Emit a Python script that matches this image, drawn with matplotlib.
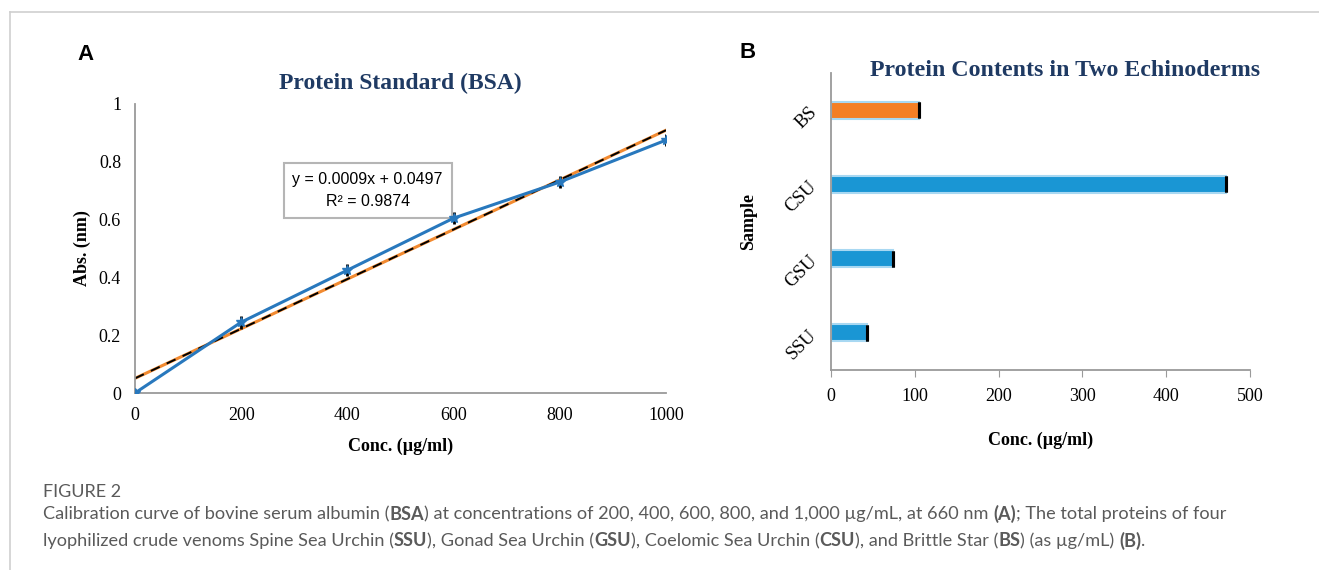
import numpy as np
import matplotlib
matplotlib.use("Agg")
import matplotlib.pyplot as plt
from matplotlib.lines import Line2D

# panel A data: BSA standard curve
conc = [0, 200, 400, 600, 800, 1000]
absorb = [0.0, 0.245, 0.425, 0.605, 0.73, 0.875]
absorb_err = [0.015, 0.022, 0.02, 0.02, 0.02, 0.02]

# panel B data: protein contents
samples = ["SSU", "GSU", "CSU", "BS"]
protein = [43, 74, 471, 105]
protein_err = [0.0, 0.0, 0.0, 0.0]
bar_colors = ["#1a96d4", "#1a96d4", "#1a96d4", "#f47f25"]

serif = "Liberation Serif"
navy = "#1f3a63"
spine_gray = "#9a9a9a"

fig = plt.figure(figsize=(13.19, 5.70), dpi=100)

# thin frame lines like the figure box
fig.add_artist(Line2D([10 / 1319, 10 / 1319], [0, 1 - 12 / 570], color="#cfcfcf", lw=1.2))
fig.add_artist(Line2D([10 / 1319, 1], [1 - 12 / 570, 1 - 12 / 570], color="#cfcfcf", lw=1.2))

# ---------- panel A ----------
axA = fig.add_axes([135 / 1319, 177 / 570, 531 / 1319, 289 / 570])
axA.plot(conc, absorb, color="#2878bd", lw=2.2, marker="*", ms=7, zorder=4)
axA.errorbar(conc, absorb, yerr=absorb_err, fmt="none", ecolor="black", elinewidth=2, zorder=3)

slope, intercept = np.polyfit(conc, absorb, 1)
xfit = np.array([conc[0], conc[-1]])
axA.plot(xfit, slope * xfit + intercept, color="#f28a30", lw=2.2, zorder=2)
axA.plot(xfit, slope * xfit + intercept, color="black", lw=1.4, ls=(0, (5, 4)), zorder=2)

axA.set_xlim(0, 1000)
axA.set_ylim(0, 1)
axA.set_xticks([0, 200, 400, 600, 800, 1000])
axA.set_yticks([0, 0.2, 0.4, 0.6, 0.8, 1])
axA.set_yticklabels(["0", "0.2", "0.4", "0.6", "0.8", "1"])
axA.tick_params(length=0, labelsize=13, pad=10)
for lab in axA.get_xticklabels() + axA.get_yticklabels():
    lab.set_fontfamily(serif)
for s in ["top", "right"]:
    axA.spines[s].set_visible(False)
for s in ["left", "bottom"]:
    axA.spines[s].set_color(spine_gray)
    axA.spines[s].set_linewidth(1.3)
axA.set_xlabel("Conc. (µg/ml)", fontfamily=serif, fontweight="bold", fontsize=13, labelpad=10)
axA.set_ylabel("Abs. (nm)", fontfamily=serif, fontweight="bold", fontsize=13, labelpad=6)
axA.set_title("Protein Standard (BSA)", fontfamily=serif, fontweight="bold", fontsize=17,
              color=navy, pad=11)
axA.text(0.438, 0.7, "y = 0.0009x + 0.0497\nR² = 0.9874", transform=axA.transAxes,
         ha="center", va="center", fontsize=11.5, fontfamily="Liberation Sans",
         linespacing=1.6,
         bbox=dict(boxstyle="square,pad=0.55", fc="white", ec="#b5b5b5", lw=1.5))

# ---------- panel B ----------
axB = fig.add_axes([831 / 1319, 200 / 570, 419 / 1319, 297 / 570])
ypos = np.arange(len(samples))
axB.barh(ypos, protein, height=0.23, color=bar_colors, edgecolor="#a8d8f2", linewidth=1.5)
axB.errorbar(protein, ypos, xerr=protein_err, fmt="none", ecolor="black", elinewidth=2,
             capsize=6, capthick=2.2)
axB.set_xlim(0, 500)
axB.set_ylim(-0.5, 3.5)
axB.set_xticks([0, 100, 200, 300, 400, 500])
axB.set_yticks(ypos)
axB.set_yticklabels(samples, rotation=45, ha="right", va="center", rotation_mode="anchor")
axB.tick_params(axis="y", length=0, labelsize=13.5, pad=12)
axB.tick_params(axis="x", length=5, color=spine_gray, labelsize=13, pad=8)
for lab in axB.get_xticklabels() + axB.get_yticklabels():
    lab.set_fontfamily(serif)
for s in ["top", "right"]:
    axB.spines[s].set_visible(False)
for s in ["left", "bottom"]:
    axB.spines[s].set_color(spine_gray)
    axB.spines[s].set_linewidth(1.3)
axB.set_xlabel("Conc. (µg/ml)", fontfamily=serif, fontweight="bold", fontsize=13, labelpad=19)
axB.set_ylabel("Sample", fontfamily=serif, fontweight="bold", fontsize=13, labelpad=18)
fig.text(1065 / 1319, 1 - 71 / 570, "Protein Contents in Two Echinoderms", fontfamily=serif,
         fontweight="bold", fontsize=17.2, color=navy, ha="center", va="center")

# panel letters
fig.text(85 / 1319, 1 - 55 / 570, "A", fontfamily="Liberation Sans", fontweight="bold",
         fontsize=16, ha="center", va="center")
fig.text(748 / 1319, 1 - 53 / 570, "B", fontfamily="Liberation Sans", fontweight="bold",
         fontsize=16, ha="center", va="center")

# ---------- caption ----------
cap_font = "Lato"
cap_color = "#5a5a5a"
cap_size = 13.1
fig.text(43 / 1319, 1 - 492 / 570, "FIGURE 2", fontfamily=cap_font, fontsize=13,
         color=cap_color, va="center")

line1 = [("Calibration curve of bovine serum albumin (", False), ("BSA", True),
         (") at concentrations of 200, 400, 600, 800, and 1,000 µg/mL, at 660 nm ", False),
         ("(A)", True), ("; The total proteins of four", False)]
line2 = [("lyophilized crude venoms Spine Sea Urchin (", False), ("SSU", True),
         ("), Gonad Sea Urchin (", False), ("GSU", True), ("), Coelomic Sea Urchin (", False),
         ("CSU", True), ("), and Brittle Star (", False), ("BS", True),
         (") (as µg/mL) ", False), ("(B)", True), (".", False)]

fig.canvas.draw()
renderer = fig.canvas.get_renderer()


def put_runs(runs, x0, y_px):
    x = x0
    for txt, bold in runs:
        t = fig.text(x / 1319, 1 - y_px / 570, txt, fontfamily=cap_font, fontsize=cap_size,
                     color=cap_color, fontweight="bold" if bold else "normal",
                     va="center", ha="left")
        bb = t.get_window_extent(renderer=renderer)
        x += bb.width


put_runs(line1, 43, 514)
put_runs(line2, 43, 541)

fig.savefig("out.png", dpi=100)
